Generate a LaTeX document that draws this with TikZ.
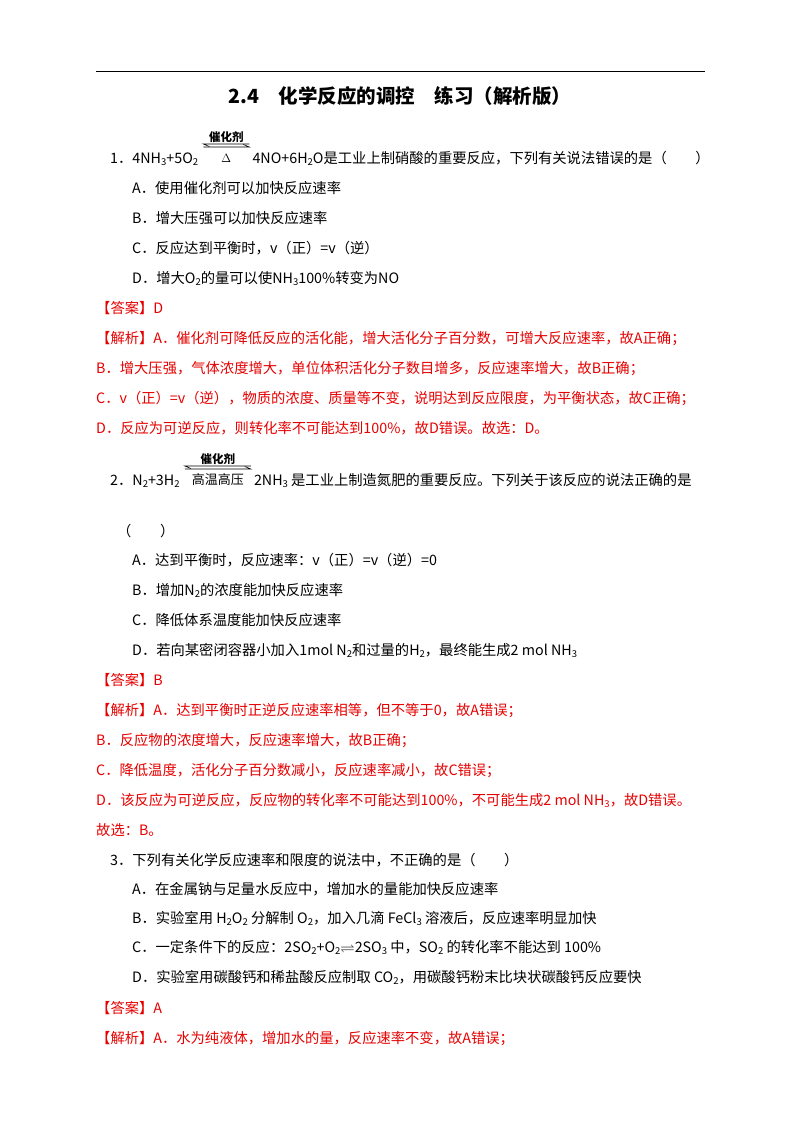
\documentclass[tikz,border=0pt]{standalone}
\usepackage{fontspec}
\usepackage{amssymb}
\usetikzlibrary{calc}
\setmainfont{Liberation Serif}
\newfontfamily\cjk{Noto Sans CJK SC}
\newcommand{\sbx}[1]{\raisebox{-0.35ex}{\fontsize{9.5pt}{9.5pt}\selectfont #1}}
\definecolor{ansred}{RGB}{230,0,0}
\begin{document}
\begin{tikzpicture}[x=1pt,y=-1pt,
  tx/.style={anchor=base west,inner sep=0pt,font=\fontsize{14.3pt}{15pt}\selectfont\cjk},
  rt/.style={tx,text=ansred},
  sm/.style={anchor=base,inner sep=0pt,font=\fontsize{11.5pt}{11.5pt}\selectfont\cjk}]
\useasboundingbox[fill=white] (0,0) rectangle (800,1132);
\draw[line width=1pt] (96,72) -- (705,72);
\node[anchor=base,inner sep=0pt,font=\fontsize{19.5pt}{20pt}\selectfont\cjk\bfseries] (title) at (400,103) {2.4\quad 化学反应的调控\quad 练习（解析版）};
% Q1
\node[tx] (q1a) at (110,163) {1．4NH\sbx{3}+5O\sbx{2}};
\coordinate (a1l) at ($(q1a.base east)+(5,-16)$); \coordinate (a1r) at ($(a1l)+(46,0)$);
\draw[line width=0.6pt] (a1l) -- (a1r) -- ++(-6,-2.5);
\draw[line width=0.6pt] ([yshift=3]a1r) -- ([yshift=3]a1l) -- ++(6,2.5);
\node[sm,font=\fontsize{11.5pt}{11.5pt}\selectfont\cjk\bfseries] (c1) at ($(a1l)!0.5!(a1r)+(0,-6)$) {催化剂};
\node[sm,font=\fontsize{13pt}{13pt}\selectfont] (d1) at ($(a1l)!0.5!(a1r)+(0,15)$) {$\Delta$};
\node[tx] (q1b) at ($(a1r)+(3,16)$) {4NO+6H\sbx{2}O是工业上制硝酸的重要反应，下列有关说法错误的是（\qquad）};
\node[tx] (o1a) at (132,193) {A．使用催化剂可以加快反应速率};
\node[tx] (o1b) at (132,223) {B．增大压强可以加快反应速率};
\node[tx] (o1c) at (132,253) {C．反应达到平衡时，v（正）=v（逆）};
\node[tx] (o1d) at (132,283) {D．增大O\sbx{2}的量可以使NH\sbx{3}100\%转变为NO};
\node[rt] (an1) at (96,313) {【答案】D};
\node[rt] (ex1) at (96,343) {【解析】A．催化剂可降低反应的活化能，增大活化分子百分数，可增大反应速率，故A正确；};
\node[rt] (ex1b) at (96,373) {B．增大压强，气体浓度增大，单位体积活化分子数目增多，反应速率增大，故B正确；};
\node[rt] (ex1c) at (96,403) {C．v（正）=v（逆），物质的浓度、质量等不变，说明达到反应限度，为平衡状态，故C正确；};
\node[rt] (ex1d) at (96,433) {D．反应为可逆反应，则转化率不可能达到100\%，故D错误。故选：D。};
% Q2
\node[tx] (q2a) at (110,485) {2．N\sbx{2}+3H\sbx{2}};
\coordinate (a2l) at ($(q2a.base east)+(5,-16)$); \coordinate (a2r) at ($(a2l)+(66,0)$);
\draw[line width=0.6pt] (a2l) -- (a2r) -- ++(-6,-2.5);
\draw[line width=0.6pt] ([yshift=3]a2r) -- ([yshift=3]a2l) -- ++(6,2.5);
\node[sm,font=\fontsize{11.5pt}{11.5pt}\selectfont\cjk\bfseries] (c2) at ($(a2l)!0.5!(a2r)+(0,-6)$) {催化剂};
\node[sm,font=\fontsize{13pt}{13pt}\selectfont\cjk] (d2) at ($(a2l)!0.5!(a2r)+(0,15)$) {高温高压};
\node[tx] (q2b) at ($(a2r)+(3,16)$) {2NH\sbx{3} 是工业上制造氮肥的重要反应。下列关于该反应的说法正确的是};
\node[tx] (q2c) at (117,536) {（\qquad）};
\node[tx] (o2a) at (132,565) {A．达到平衡时，反应速率：v（正）=v（逆）=0};
\node[tx] (o2b) at (132,595) {B．增加N\sbx{2}的浓度能加快反应速率};
\node[tx] (o2c) at (132,625) {C．降低体系温度能加快反应速率};
\node[tx] (o2d) at (132,655) {D．若向某密闭容器小加入1mol\ N\sbx{2}和过量的H\sbx{2}，最终能生成2\ mol\ NH\sbx{3}};
\node[rt] (an2) at (96,685) {【答案】B};
\node[rt] (ex2) at (96,715) {【解析】A．达到平衡时正逆反应速率相等，但不等于0，故A错误；};
\node[rt] (ex2b) at (96,745) {B．反应物的浓度增大，反应速率增大，故B正确；};
\node[rt] (ex2c) at (96,775) {C．降低温度，活化分子百分数减小，反应速率减小，故C错误；};
\node[rt] (ex2d) at (96,805) {D．该反应为可逆反应，反应物的转化率不可能达到100\%，不可能生成2\ mol\ NH\sbx{3}，故D错误。};
\node[rt] (ex2e) at (96,835) {故选：B。};
% Q3
\node[tx] (q3) at (110,865) {3．下列有关化学反应速率和限度的说法中，不正确的是（\qquad）};
\node[tx] (o3a) at (132,894) {A．在金属钠与足量水反应中，增加水的量能加快反应速率};
\node[tx] (o3b) at (132,923) {B．实验室用\ H\sbx{2}O\sbx{2}\ 分解制\ O\sbx{2}，加入几滴\ FeCl\sbx{3}\ 溶液后，反应速率明显加快};
\node[tx] (o3c) at (132,952) {C．一定条件下的反应：2SO\sbx{2}+O\sbx{2}$\rightleftharpoons$2SO\sbx{3}\ 中，SO\sbx{2}\ 的转化率不能达到\ 100\%};
\node[tx] (o3d) at (132,982) {D．实验室用碳酸钙和稀盐酸反应制取\ CO\sbx{2}，用碳酸钙粉末比块状碳酸钙反应要快};
\node[rt] (an3) at (96,1013) {【答案】A};
\node[rt] (ex3) at (96,1043) {【解析】A．水为纯液体，增加水的量，反应速率不变，故A错误；};
\end{tikzpicture}
\end{document}
